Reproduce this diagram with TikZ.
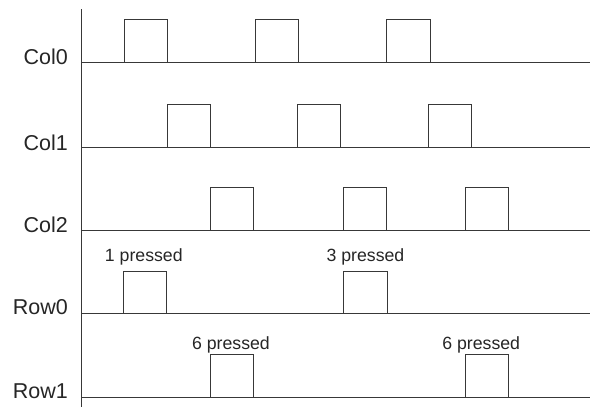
\documentclass[tikz,border=0pt]{standalone}
\usepackage{fontspec}
\setmainfont{Liberation Sans}
\begin{document}
\begin{tikzpicture}[x=1pt,y=-1pt,
  sig/.style={draw=black!78,line width=0.95pt,line join=miter},
  axislbl/.style={anchor=base east,inner sep=0pt,text=black!85,font=\fontsize{21.5}{24}\selectfont},
  presslbl/.style={anchor=base,inner sep=0pt,text=black!85,font=\fontsize{17.7}{20}\selectfont}]
\useasboundingbox[fill=white] (0,0) rectangle (590,407);
% axis
\draw[sig] (81,9) -- (81,407);
% labels
\node[axislbl] (c0) at (68,64) {Col0};
\node[axislbl] (c1) at (68,150) {Col1};
\node[axislbl] (c2) at (68,232) {Col2};
\node[axislbl] (r0) at (68,314.5) {Row0};
\node[axislbl] (r1) at (68,398) {Row1};
% waveforms: baseline plus pulse boxes
\draw[sig] (82,62) -- (590,62);
\foreach \a/\b in {124/167,255/298,386/430} \draw[sig] (\a,62) rectangle (\b,19.5);
\draw[sig] (82,147.7) -- (590,147.7);
\foreach \a/\b in {167/210,297/340,428/471} \draw[sig] (\a,147.7) rectangle (\b,104.7);
\draw[sig] (82,230.7) -- (590,230.7);
\foreach \a/\b in {210/253,343/386,465/508.5} \draw[sig] (\a,230.7) rectangle (\b,187.7);
\draw[sig] (82,313.7) -- (590,313.7);
\foreach \a/\b in {123/166,343/387} \draw[sig] (\a,313.7) rectangle (\b,271);
\draw[sig] (82,397.3) -- (590,397.3);
\foreach \a/\b in {210/253,465/508.5} \draw[sig] (\a,397.3) rectangle (\b,354.3);
% pressed labels
\node[presslbl] (p1) at (143.8,261.5) {1 pressed};
\node[presslbl] (p3) at (365.5,261.5) {3 pressed};
\node[presslbl] (p6a) at (231,349.3) {6 pressed};
\node[presslbl] (p6b) at (481.2,349.3) {6 pressed};
\end{tikzpicture}
\end{document}
